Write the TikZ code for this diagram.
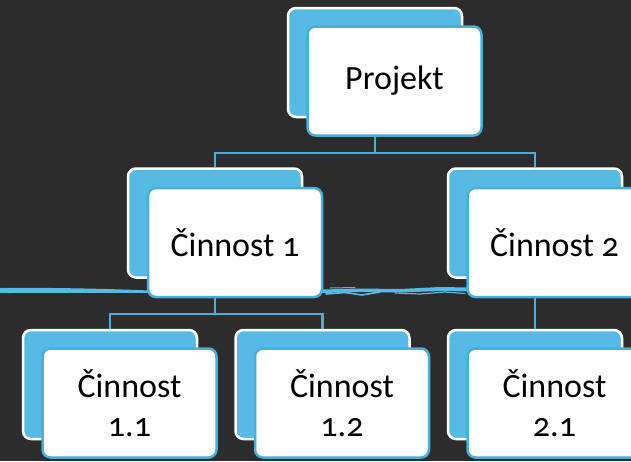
\documentclass[tikz,border=0pt]{standalone}
\usepackage{fontspec}
\setmainfont{Carlito}[Numbers=OldStyle]
\definecolor{boardbg}{HTML}{2C2C2C}
\definecolor{skyfill}{HTML}{56BAE5}
\definecolor{skyline}{HTML}{4AADDA}
\pgfdeclarelayer{board}
\pgfdeclarelayer{links}
\pgfsetlayers{board,links,main}
\begin{document}
\begin{tikzpicture}[x=1pt,y=-1pt,
  backbox/.style={draw=white, line width=2.5pt, fill=skyfill, rounded corners=8pt,
    minimum width=174pt, minimum height=109pt, inner sep=0pt},
  frontbox/.style={draw=skyline, line width=2.5pt, fill=white, rounded corners=8pt,
    minimum width=174pt, minimum height=109pt, inner sep=0pt,
    font=\fontsize{34}{39}\selectfont, align=center, text=black},
  link/.style={draw=skyline, line width=2.2pt},
  chalk/.style={draw=skyfill, line cap=round, line join=round}]
\useasboundingbox (0,0) rectangle (631,461);
\clip (0,0) rectangle (631,461);

% boxes
\node[backbox]  (bP)  at (375,62.5) {};
\node[frontbox] (fP)  at (394.5,81) {Projekt};
\node[backbox]  (b1)  at (215,223) {};
\node[frontbox] (f1)  at (235,242.5) {Činnost 1};
\node[backbox]  (b2)  at (535,223) {};
\node[frontbox] (f2)  at (554.5,242.5) {Činnost 2};
\node[backbox]  (b11) at (110,384.5) {};
\node[frontbox] (f11) at (129.5,403) {Činnost\\1.1};
\node[backbox]  (b12) at (322.5,384.5) {};
\node[frontbox] (f12) at (342,403) {Činnost\\1.2};
\node[backbox]  (b21) at (535,384.5) {};
\node[frontbox] (f21) at (554.5,403) {Činnost\\2.1};

\begin{pgfonlayer}{board}
  \fill[boardbg] (0,0) rectangle (631,461);
  % chalk stroke across the board
  \fill[skyfill] (0,288) .. controls (50,287.5) and (100,288.5) .. (150,290.5)
     -- (150,293) .. controls (100,292.5) and (50,293) .. (0,293) -- cycle;
  \fill[skyfill] (322,289.5) -- (360,288.5) -- (400,289) -- (440,287) -- (470,287.5)
     -- (470,291.5) -- (440,291) -- (400,292.5) -- (360,292) -- (322,293) -- cycle;
  \draw[chalk, line width=1.6pt] (326,294) -- (345,292.5) -- (362,295) -- (380,292);
  \draw[chalk, line width=1.2pt] (395,293) -- (420,294) -- (445,292) -- (465,293.5);
  \draw[chalk, line width=1pt] (330,288) -- (355,287.5);
\end{pgfonlayer}

\begin{pgfonlayer}{links}
  \draw[link] (bP.south |- fP.south) -- ++(0,16) coordinate (jP) -| (b1.north);
  \draw[link] (jP) -| (b2.north);
  \draw[link] (b1.south |- f1.south) -- ++(0,16) coordinate (j1) -| (b11.north);
  \draw[link] (j1) -| (b12.north);
  \draw[link] (b2.south |- f2.south) -- (b21.north);
\end{pgfonlayer}
\end{tikzpicture}
\end{document}
